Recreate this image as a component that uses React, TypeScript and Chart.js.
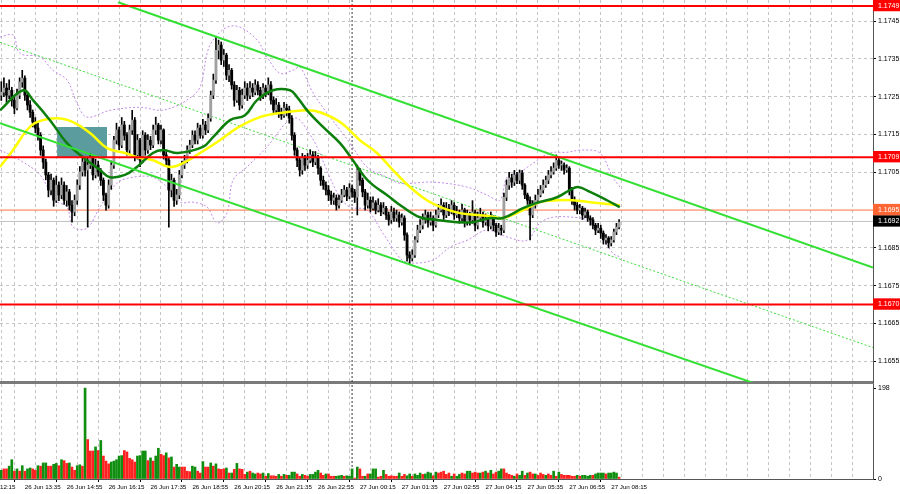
import React, { useEffect, useRef } from 'react';
import { Chart, registerables } from 'chart.js';

Chart.register(...registerables);

// ---------- data (5-minute bars) ----------
const FIRST_OPEN = 1.17254;

const closes = [
  1.17262, 1.17273, 1.17254, 1.17267, 1.17241, 1.1722, 1.17254, 1.17289, 1.17299, 1.17254,
  1.17228, 1.17209, 1.17183, 1.17167, 1.17148, 1.17109, 1.17077, 1.17043, 1.17003, 1.17029,
  1.16976, 1.17016, 1.1699, 1.17016, 1.16976, 1.16998, 1.16963, 1.16945, 1.16976, 1.17016,
  1.17051, 1.17077, 1.17056, 1.17069, 1.17088, 1.17043, 1.17069, 1.17051, 1.17029, 1.1699,
  1.16963, 1.17016, 1.17069, 1.17135, 1.17162, 1.17122, 1.17175, 1.17148, 1.17109, 1.17162,
  1.17188, 1.17096, 1.17135, 1.17082, 1.17148, 1.17109, 1.17135, 1.17122, 1.17162, 1.17175,
  1.17135, 1.17162, 1.17096, 1.17082, 1.17003, 1.17029, 1.16976, 1.1699, 1.17043, 1.17069,
  1.17082, 1.17109, 1.17122, 1.17148, 1.17135, 1.17167, 1.17148, 1.17175, 1.17162, 1.17193,
  1.17254, 1.17294, 1.17373, 1.17387, 1.17347, 1.1736, 1.17307, 1.1732, 1.17281, 1.17241,
  1.17267, 1.17228, 1.17254, 1.17273, 1.17254, 1.17273, 1.17262, 1.17281, 1.17267, 1.17252,
  1.17273, 1.17262, 1.17281, 1.17241, 1.17215, 1.17228, 1.17209, 1.17201, 1.1722, 1.17215,
  1.17193, 1.17148, 1.17109, 1.17082, 1.17056, 1.17088, 1.17069, 1.17082, 1.17096, 1.17077,
  1.17088, 1.17061, 1.17029, 1.17016, 1.17003, 1.1699, 1.16976, 1.16982, 1.16963, 1.16976,
  1.1699, 1.17003, 1.16987, 1.17008, 1.16998, 1.16984, 1.17056, 1.17029, 1.16998, 1.16963,
  1.16976, 1.16955, 1.16969, 1.1695, 1.16963, 1.16945, 1.16955, 1.16937, 1.16924, 1.16945,
  1.16929, 1.16937, 1.16918, 1.16929, 1.16884, 1.16831, 1.16823, 1.16831, 1.16871, 1.16897,
  1.1691, 1.16924, 1.16937, 1.16918, 1.16929, 1.1691, 1.16937, 1.1695, 1.16963, 1.16937,
  1.16955, 1.16945, 1.16963, 1.16937, 1.16945, 1.16929, 1.1695, 1.16918, 1.16937, 1.16924,
  1.16945, 1.1691, 1.16929, 1.16937, 1.16918, 1.16924, 1.16908, 1.16929, 1.1691, 1.16892,
  1.16902, 1.16897, 1.16984, 1.17016, 1.17035, 1.17024, 1.17043, 1.17029, 1.17048, 1.17016,
  1.1699, 1.16976, 1.16937, 1.16963, 1.16976, 1.1699, 1.17003, 1.17016, 1.17029, 1.17043,
  1.17051, 1.17061, 1.17082, 1.17069, 1.17069, 1.17056, 1.17061, 1.17003, 1.16976, 1.16963,
  1.1695, 1.16955, 1.16937, 1.16945, 1.16929, 1.16924, 1.1691, 1.16897, 1.16902, 1.16889,
  1.16871, 1.16876, 1.16863, 1.16871, 1.16892, 1.16905, 1.16918,
];

const highs = [
  1.1729, 1.173, 1.17285, 1.17295, 1.17275, 1.1725, 1.1727, 1.173, 1.1732, 1.17305,
  1.1726, 1.1724, 1.17215, 1.17195, 1.1718, 1.17155, 1.1712, 1.17085, 1.1705, 1.17045,
  1.17035, 1.1704, 1.17025, 1.17035, 1.17025, 1.17015, 1.17005, 1.16975, 1.1699, 1.1703,
  1.17065, 1.1709, 1.17085, 1.1709, 1.171, 1.17095, 1.17085, 1.1708, 1.1706, 1.17035,
  1.16995, 1.1703, 1.1708, 1.17145, 1.1718, 1.1717, 1.17195, 1.17185, 1.17155, 1.17175,
  1.17214, 1.17195, 1.1715, 1.1714, 1.1716, 1.17155, 1.1715, 1.17145, 1.17175, 1.17196,
  1.1718, 1.17175, 1.17165, 1.17105, 1.1709, 1.17045, 1.17035, 1.17005, 1.17055, 1.1708,
  1.17095, 1.1712, 1.17135, 1.1716, 1.1716, 1.1718, 1.17175, 1.1719, 1.17185, 1.17205,
  1.17265, 1.1731, 1.17408, 1.174, 1.17395, 1.17375, 1.17365, 1.17335, 1.17325, 1.1729,
  1.1728, 1.17275, 1.1727, 1.1729, 1.17285, 1.1729, 1.17285, 1.17295, 1.1729, 1.17275,
  1.17285, 1.1728, 1.173, 1.1729, 1.1725, 1.17245, 1.17235, 1.1722, 1.17235, 1.1723,
  1.17225, 1.172, 1.17155, 1.17115, 1.1709, 1.171, 1.17095, 1.171, 1.1711, 1.17105,
  1.17105, 1.17095, 1.17065, 1.1704, 1.17025, 1.17015, 1.17, 1.16995, 1.1699, 1.1699,
  1.17005, 1.17015, 1.1701, 1.1702, 1.17015, 1.17005, 1.17069, 1.1706, 1.17035, 1.17005,
  1.16995, 1.16985, 1.16985, 1.16975, 1.1698, 1.1697, 1.1697, 1.1696, 1.16945, 1.1696,
  1.16955, 1.1695, 1.16945, 1.1694, 1.16935, 1.1689, 1.1684, 1.16845, 1.1688, 1.1691,
  1.16925, 1.1694, 1.1695, 1.16945, 1.16945, 1.16935, 1.1695, 1.16965, 1.1698, 1.1697,
  1.1697, 1.16965, 1.16975, 1.1697, 1.1696, 1.1695, 1.16965, 1.16955, 1.1695, 1.16945,
  1.16975, 1.1695, 1.16945, 1.16955, 1.16945, 1.1694, 1.1693, 1.16945, 1.16935, 1.16915,
  1.16915, 1.1691, 1.16995, 1.1703, 1.1705, 1.17045, 1.17055, 1.1705, 1.17056, 1.17055,
  1.1702, 1.16995, 1.16985, 1.16975, 1.1699, 1.17005, 1.17015, 1.1703, 1.1704, 1.17055,
  1.17065, 1.17075, 1.17096, 1.1709, 1.1708, 1.17075, 1.1707, 1.17065, 1.1701, 1.16985,
  1.1697, 1.16965, 1.1696, 1.16955, 1.1695, 1.16935, 1.1693, 1.16915, 1.16915, 1.1691,
  1.16895, 1.16885, 1.1688, 1.1688, 1.169, 1.16915, 1.16925,
];

const lows = [
  1.1724, 1.1725, 1.17235, 1.17245, 1.17225, 1.17205, 1.17215, 1.17245, 1.17275, 1.1724,
  1.17215, 1.17195, 1.1717, 1.17155, 1.17135, 1.17095, 1.1706, 1.1703, 1.16985, 1.1699,
  1.1696, 1.1697, 1.16975, 1.1698, 1.16965, 1.1696, 1.1695, 1.16918, 1.16935, 1.16965,
  1.17005, 1.1704, 1.1704, 1.16905, 1.1706, 1.1703, 1.17035, 1.1704, 1.17015, 1.16975,
  1.1695, 1.16955, 1.17005, 1.1706, 1.17125, 1.1711, 1.17115, 1.17135, 1.17095, 1.171,
  1.1715, 1.1708, 1.17085, 1.17065, 1.17075, 1.17095, 1.171, 1.1711, 1.17115, 1.1715,
  1.17125, 1.17125, 1.17085, 1.1707, 1.16905, 1.16985, 1.1696, 1.16965, 1.1698, 1.17035,
  1.1706, 1.17075, 1.171, 1.17115, 1.17125, 1.17125, 1.1714, 1.1714, 1.1715, 1.17155,
  1.17185, 1.17245, 1.17285, 1.1735, 1.17335, 1.1733, 1.17295, 1.1729, 1.1727, 1.17225,
  1.17235, 1.17215, 1.1722, 1.17245, 1.1724, 1.17245, 1.1725, 1.17255, 1.17255, 1.1724,
  1.17245, 1.1725, 1.17255, 1.1723, 1.17205, 1.17205, 1.17195, 1.1719, 1.17195, 1.172,
  1.1718, 1.17135, 1.17095, 1.17065, 1.1704, 1.17045, 1.17055, 1.1706, 1.17075, 1.17065,
  1.1707, 1.17045, 1.17015, 1.17005, 1.1699, 1.16975, 1.16965, 1.16965, 1.1695, 1.16955,
  1.1697, 1.16985, 1.16975, 1.1698, 1.16985, 1.1697, 1.16937, 1.17015, 1.16985, 1.1695,
  1.16955, 1.16945, 1.1695, 1.1694, 1.16945, 1.16935, 1.1694, 1.16925, 1.1691, 1.16915,
  1.1692, 1.1692, 1.16905, 1.1691, 1.1687, 1.16815, 1.16808, 1.16815, 1.16825, 1.16865,
  1.1689, 1.169, 1.16915, 1.16905, 1.1691, 1.16895, 1.16905, 1.1693, 1.16945, 1.16925,
  1.1693, 1.16935, 1.1694, 1.16925, 1.1693, 1.16915, 1.1692, 1.16905, 1.1691, 1.1691,
  1.16915, 1.16895, 1.169, 1.1692, 1.16905, 1.1691, 1.16895, 1.169, 1.16895, 1.1688,
  1.16885, 1.16884, 1.1689, 1.16975, 1.17005, 1.1701, 1.17015, 1.1702, 1.1702, 1.17005,
  1.1698, 1.16965, 1.16871, 1.1693, 1.16955, 1.1697, 1.16985, 1.16995, 1.1701, 1.1702,
  1.17035, 1.17045, 1.17055, 1.1706, 1.17055, 1.17045, 1.1705, 1.1699, 1.16965, 1.1695,
  1.1694, 1.1694, 1.16925, 1.1693, 1.1692, 1.1691, 1.169, 1.16885, 1.1689, 1.16875,
  1.1686, 1.1686, 1.1685, 1.16855, 1.16865, 1.16885, 1.169,
];

const volumes = [
  19, 22, 22, 28, 42, 17, 22, 17, 29, 17,
  22, 24, 22, 19, 29, 28, 35, 35, 28, 28,
  32, 34, 29, 42, 40, 34, 35, 26, 19, 29,
  31, 28, 198, 86, 61, 61, 70, 62, 84, 50,
  39, 33, 37, 39, 42, 50, 51, 62, 59, 45,
  42, 37, 50, 51, 61, 61, 40, 46, 39, 50,
  67, 54, 51, 57, 46, 48, 26, 32, 26, 26,
  26, 17, 16, 28, 26, 17, 13, 38, 26, 26,
  35, 28, 33, 22, 21, 22, 24, 13, 13, 21,
  34, 22, 21, 10, 15, 17, 13, 11, 13, 11,
  13, 6, 12, 7, 7, 6, 10, 6, 10, 8,
  8, 15, 15, 11, 6, 10, 8, 6, 10, 10,
  15, 19, 13, 8, 11, 11, 6, 6, 6, 7,
  8, 6, 7, 6, 22, 2, 26, 22, 6, 6,
  11, 11, 22, 22, 4, 6, 19, 10, 6, 7,
  6, 6, 13, 6, 10, 7, 11, 6, 11, 8,
  13, 10, 11, 15, 13, 7, 15, 13, 15, 17,
  10, 13, 6, 11, 6, 10, 13, 11, 17, 17,
  13, 15, 13, 13, 15, 17, 13, 19, 11, 15,
  17, 22, 22, 13, 10, 8, 6, 11, 8, 17,
  8, 13, 15, 11, 11, 8, 13, 10, 8, 11,
  8, 17, 6, 15, 10, 8, 8, 8, 6, 6,
  8, 6, 8, 8, 6, 8, 8, 11, 13, 13,
  13, 11, 13, 13, 15, 13, 4,
];

// G = volume up bar (green), R = volume down bar (red)
const volumeDirections =
  'GRRGGRGRGR' + 'GGRRGRGGRR' + 'GGRGRRGRRG' + 'GRGRRRGRGR' + 'RRGGGGGRRR' +
  'RRGGGGRGRG' + 'GRRGRGRGGR' + 'RRRGGRRGRR' + 'GRGRRRGRGR' + 'GRRRGRGGRR' +
  'GRGRRRGRGR' + 'GGGRRGRRGG' + 'GGRRGRRRGG' + 'GRGGGRGRRG' + 'RGGGRRGRRR' +
  'RRGRRGGRGG' + 'GRGGGRGRRR' + 'RRGRGGRRGG' + 'RRRGRGRGRR' + 'GGRRRRGRGG' +
  'RGRRGRRRGR' + 'RGRGRRRRRR' + 'GRGGGGRGGG' + 'GRGGGGR';

const timeLabels = [
  '26 Jun 13:35', '26 Jun 14:55', '26 Jun 16:15', '26 Jun 17:35', '26 Jun 18:55',
  '26 Jun 20:15', '26 Jun 21:35', '26 Jun 22:55', '27 Jun 00:15', '27 Jun 01:35',
  '27 Jun 02:55', '27 Jun 04:15', '27 Jun 05:35', '27 Jun 06:55', '27 Jun 08:15',
];
const firstLabelText = '12:15';

const priceTicks = [1.1655, 1.1665, 1.1675, 1.1685, 1.1695, 1.1705, 1.1715, 1.1725, 1.1735, 1.1745];
const volumeTicks = [0, 198];

const redLevels = [1.1749, 1.1709, 1.167];
const pendingLevel = 1.1695;
const bidPrice = 1.1692;

// moving averages & bands read as [bar index, price]
const greenMA = [
  [-0.5, 1.17214], [8.3, 1.17267], [12.1, 1.17241], [18.6, 1.17188], [25.1, 1.17127],
  [31.2, 1.1709], [37.7, 1.17056], [41.5, 1.17037], [47.2, 1.17043], [51.8, 1.17064],
  [57.9, 1.17101], [61.8, 1.17109], [67.5, 1.17101], [77, 1.17117], [80.9, 1.17143],
  [87.4, 1.17188], [93.1, 1.17201], [97.7, 1.17241], [103.8, 1.17267], [110.3, 1.17267],
  [113, 1.17249], [116.8, 1.17214], [122.9, 1.1717], [129.4, 1.17127], [134.3, 1.17082],
  [138.9, 1.17037], [142, 1.17016], [147.3, 1.1699], [153.4, 1.16958], [159.9, 1.16931],
  [166.4, 1.16924], [174.1, 1.16918], [180.2, 1.16918], [186.7, 1.16929], [191.6, 1.16929],
  [199.3, 1.16955], [204.6, 1.16969], [212.3, 1.16984], [217.2, 1.17003], [220.3, 1.17011],
  [224.9, 1.16998], [231.4, 1.16976], [236.3, 1.16958],
];

const yellowMA = [
  [-0.5, 1.17064], [4.5, 1.17109], [9.8, 1.17162], [13.6, 1.17183], [21.3, 1.17193],
  [27.4, 1.17183], [33.9, 1.17154], [40.4, 1.17114], [47.2, 1.17101], [51.8, 1.1709],
  [57.9, 1.17082], [64.4, 1.17064], [69.4, 1.17074], [75.9, 1.17101], [83.5, 1.17135],
  [90, 1.17167], [98.8, 1.17196], [106.5, 1.17207], [116.8, 1.17214], [121.7, 1.17209],
  [129.4, 1.17183], [137, 1.17135], [143.5, 1.17101], [149.6, 1.17056], [156.1, 1.17011],
  [162.6, 1.16976], [168.7, 1.16955], [175.2, 1.16942], [181.7, 1.16937], [186.7, 1.16934],
  [191.6, 1.16929], [199.3, 1.1695], [205.8, 1.16971], [212.3, 1.16976], [218.4, 1.16976],
  [224.9, 1.16971], [236.3, 1.16963],
];

const bandUpper = [
  [-0.5, 1.17408], [4.5, 1.17413], [7.1, 1.17365], [14.8, 1.17355], [19.7, 1.1732],
  [25.1, 1.17294], [28.9, 1.17233], [32.7, 1.17196], [41.5, 1.17214], [53, 1.17222],
  [60.6, 1.17214], [65.6, 1.17222], [70.9, 1.17241], [75.9, 1.17275], [78.6, 1.17365],
  [80.9, 1.174], [86.2, 1.17434], [91.2, 1.17434], [97.7, 1.174], [101.5, 1.17355],
  [106.5, 1.17312], [111.4, 1.1732], [114.1, 1.17328], [119.1, 1.1726], [124.4, 1.17207],
  [129.4, 1.17162], [133.2, 1.17127], [139.7, 1.17064], [147.3, 1.17037], [152.3, 1.17021],
  [164.9, 1.17024], [177.9, 1.17011], [185.5, 1.1699], [190.5, 1.16976], [193.2, 1.17037],
  [198.1, 1.1705], [203.1, 1.17074], [209.6, 1.17101], [216.1, 1.17103], [222.2, 1.17109],
  [228.7, 1.17101], [233.6, 1.17037], [236.3, 1.17011],
];

const bandLower = [
  [-0.5, 1.17109], [7.1, 1.17082], [14.8, 1.17043], [20.5, 1.16976], [25.1, 1.16958],
  [27.4, 1.16905], [32.7, 1.16902], [37.7, 1.16958], [44.2, 1.17021], [50.3, 1.17037],
  [57.9, 1.17037], [63.3, 1.17011], [68.3, 1.16971], [73.2, 1.16971], [78.6, 1.16958],
  [82.4, 1.16916], [86.2, 1.16942], [88.5, 1.17029], [93.8, 1.17064], [101.5, 1.17117],
  [109.1, 1.17183], [113, 1.17193], [116.8, 1.17162], [120.6, 1.17117], [125.5, 1.17037],
  [129.4, 1.16984], [133.2, 1.16958], [139.7, 1.1695], [145.8, 1.16889], [152.3, 1.16823],
  [156.1, 1.1681], [164.9, 1.16818], [171.4, 1.16852], [177.9, 1.1687], [185.5, 1.16897],
  [193.2, 1.16879], [200.8, 1.1687], [205.8, 1.16916], [210.7, 1.16931], [218.4, 1.16931],
  [223.7, 1.16924], [228.7, 1.16889], [233.6, 1.16836], [236.3, 1.16826],
];

const channelUpper = [[44.6, 1.175], [333, 1.16798]];
const channelLower = [[-0.5, 1.1718], [290, 1.16486]];
const channelMid = [[-0.5, 1.17394], [333, 1.16586]];

const zoneBar = [21.3, 40.4];
const zonePrice = [1.1709, 1.1717];

const daySeparatorBar = 134;

// ---------- axis frame ----------
const X_MIN = -0.5;
const X_MAX = 333;
const Y_MAX = 1.17506;
const Y_MIN = 1.16495;
const VOL_MAX = 207;
const GRID_START = 1;
const GRID_STEP = 8;
const LABEL_START = 9;
const LABEL_STEP = 16;
const AXIS_W = 27;

const FONT = 'Liberation Sans, Arial, sans-serif';
const GRID = '#c4c4c4';

const xTickValues: number[] = [X_MIN];
for (let v = GRID_START; v <= X_MAX; v += GRID_STEP) xTickValues.push(v);

const near = (a: number, b: number) => Math.abs(a - b) < 1e-7;
const tagBg = (v: number): string | null => {
  if (redLevels.some((r) => near(r, v))) return '#ff0000';
  if (near(v, pendingLevel)) return '#ff6633';
  if (near(v, bidPrice)) return '#000000';
  return null;
};

const pts = (arr: number[][]) => arr.map(([x, y]) => ({ x, y }));
const hLine = (v: number) => [{ x: X_MIN, y: v }, { x: X_MAX, y: v }];

const lineDs = (data: any[], color: string, width: number, extra: any = {}) => ({
  type: 'line',
  data,
  borderColor: color,
  borderWidth: width,
  pointRadius: 0,
  fill: false,
  tension: 0,
  ...extra,
});

function xLabelFor(v: number): string {
  if (v === X_MIN) return firstLabelText;
  const k = (v - LABEL_START) / LABEL_STEP;
  if (Number.isInteger(k) && k >= 0 && k < timeLabels.length) return timeLabels[k];
  return '';
}

const fixVertical = (s: any) => {
  s.width = AXIS_W;
  s.paddingTop = 0;
  s.paddingBottom = 0;
};

function priceConfig(): any {
  const opens = closes.map((c, i) => (i === 0 ? FIRST_OPEN : closes[i - 1]));
  const wicks = closes.map((_, i) => ({ x: i, y: [lows[i], highs[i]] }));
  const bodies = closes.map((c, i) => ({ x: i, y: [opens[i], c] }));
  const bodyColors = closes.map((c, i) => (c >= opens[i] ? '#a0a0a0' : '#000000'));

  const yTicks = Array.from(new Set([...priceTicks, ...redLevels, bidPrice, pendingLevel]))
    .sort((a, b) => a - b);

  const datasets: any[] = [
    lineDs([{ x: zoneBar[0], y: zonePrice[1] }, { x: zoneBar[1], y: zonePrice[1] }], 'rgba(0,0,0,0)', 0, {
      fill: { value: zonePrice[0] },
      backgroundColor: '#5b9d9f',
      order: 20,
    }),
    lineDs(pts(bandUpper), '#c28ae6', 1, { borderDash: [2, 2], tension: 0.35, order: 15 }),
    lineDs(pts(bandLower), '#c28ae6', 1, { borderDash: [2, 2], tension: 0.35, order: 15 }),
    lineDs([{ x: daySeparatorBar, y: Y_MIN }, { x: daySeparatorBar, y: Y_MAX }], '#3a3a3a', 1, {
      borderDash: [2, 2],
      order: 15,
    }),
    lineDs(pts(channelMid), '#3ddc3d', 1, { borderDash: [2, 2], order: 14 }),
    lineDs(hLine(bidPrice), '#c0c0c0', 1, { order: 14 }),
    lineDs(hLine(pendingLevel), '#ff7040', 1, { order: 14 }),
    {
      type: 'bar',
      data: wicks,
      backgroundColor: '#000000',
      barThickness: 1,
      grouped: false,
      order: 10,
    },
    {
      type: 'bar',
      data: bodies,
      backgroundColor: bodyColors,
      borderWidth: 0,
      barThickness: 2.2,
      minBarLength: 1,
      grouped: false,
      order: 9,
    },
    lineDs(pts(yellowMA), '#ffff00', 2.5, { tension: 0.4, order: 6 }),
    lineDs(pts(greenMA), '#0c7f0c', 2.5, { tension: 0.4, order: 5 }),
    lineDs(pts(channelUpper), '#33e033', 2, { order: 3 }),
    lineDs(pts(channelLower), '#33e033', 2, { order: 3 }),
    ...redLevels.map((v) => lineDs(hLine(v), '#ff0000', 2, { order: 2 })),
  ];

  return {
    type: 'bar',
    data: { datasets },
    options: {
      animation: false,
      responsive: false,
      events: [],
      layout: { padding: 0 },
      plugins: { legend: { display: false }, tooltip: { enabled: false } },
      scales: {
        x: {
          type: 'linear',
          min: X_MIN,
          max: X_MAX,
          offset: false,
          afterBuildTicks: (s: any) => {
            s.ticks = xTickValues.map((v) => ({ value: v }));
          },
          afterFit: (s: any) => {
            s.height = 2;
            s.paddingLeft = 0;
            s.paddingRight = 0;
          },
          ticks: { display: false },
          grid: {
            color: (c: any) => (c.tick && c.tick.value === X_MIN ? 'rgba(0,0,0,0)' : GRID),
            drawTicks: false,
            lineWidth: 1,
          },
          border: { display: true, color: '#7a7a7a', width: 3, dash: [3, 3] },
        },
        y: {
          type: 'linear',
          position: 'right',
          min: Y_MIN,
          max: Y_MAX,
          afterBuildTicks: (s: any) => {
            s.ticks = [Y_MIN, ...yTicks, Y_MAX].map((v) => ({ value: v }));
          },
          afterFit: fixVertical,
          ticks: {
            autoSkip: false,
            padding: 2,
            font: { family: FONT, size: 7 },
            color: (c: any) => (c.tick && tagBg(c.tick.value) ? '#ffffff' : '#000000'),
            callback: (v: any) => (near(v, Y_MIN) || near(v, Y_MAX) ? null : Number(v).toFixed(4)),
            showLabelBackdrop: true,
            backdropColor: (c: any) => (c.tick && tagBg(c.tick.value)) || 'rgba(0,0,0,0)',
            backdropPadding: { top: 2, bottom: 1, left: 5, right: 4 },
          },
          grid: {
            color: (c: any) => (c.tick && tagBg(c.tick.value) ? 'rgba(0,0,0,0)' : GRID),
            tickColor: '#000000',
            tickLength: 3,
            lineWidth: 1,
          },
          border: { display: true, color: '#555555', width: 1, dash: [3, 3] },
        },
      },
    },
  };
}

function volumeConfig(): any {
  const vols = volumes.map((v, i) => ({ x: i, y: v }));
  const colors = volumes.map((_, i) => (volumeDirections[i] === 'G' ? '#108e10' : '#ff2020'));
  return {
    type: 'bar',
    data: {
      datasets: [
        lineDs([{ x: daySeparatorBar, y: 0 }, { x: daySeparatorBar, y: VOL_MAX }], '#3a3a3a', 1, {
          borderDash: [2, 2],
          order: 5,
        }),
        {
          type: 'bar',
          data: vols,
          backgroundColor: colors,
          barThickness: 2,
          grouped: false,
          order: 1,
        },
      ],
    },
    options: {
      animation: false,
      responsive: false,
      events: [],
      layout: { padding: 0 },
      plugins: { legend: { display: false }, tooltip: { enabled: false } },
      scales: {
        x: {
          type: 'linear',
          min: X_MIN,
          max: X_MAX,
          offset: false,
          afterBuildTicks: (s: any) => {
            s.ticks = xTickValues.map((v) => ({ value: v }));
          },
          afterFit: (s: any) => {
            s.height = 15;
            s.paddingLeft = 0;
            s.paddingRight = 0;
          },
          ticks: {
            autoSkip: false,
            maxRotation: 0,
            minRotation: 0,
            align: 'start',
            padding: 2,
            color: '#000000',
            font: { family: FONT, size: 6.2 },
            callback: (v: any) => xLabelFor(Number(v)),
          },
          grid: {
            color: (c: any) => (c.tick && c.tick.value === X_MIN ? 'rgba(0,0,0,0)' : GRID),
            tickColor: (c: any) => (c.tick && xLabelFor(c.tick.value) ? '#000000' : 'rgba(0,0,0,0)'),
            tickLength: 3,
            lineWidth: 1,
          },
          border: { display: true, color: '#555555', width: 1, dash: [3, 3] },
        },
        y: {
          type: 'linear',
          position: 'right',
          min: 0,
          max: VOL_MAX,
          afterBuildTicks: (s: any) => {
            s.ticks = [...volumeTicks, VOL_MAX].map((v) => ({ value: v }));
          },
          afterFit: fixVertical,
          ticks: {
            autoSkip: false,
            padding: 2,
            color: '#000000',
            font: { family: FONT, size: 7 },
            callback: (v: any) => (v === VOL_MAX ? null : String(v)),
          },
          grid: { drawOnChartArea: false, tickLength: 3, tickColor: '#000000' },
          border: { display: true, color: '#555555', width: 1 },
        },
      },
    },
  };
}

export default function App() {
  const priceRef = useRef<HTMLCanvasElement>(null);
  const volRef = useRef<HTMLCanvasElement>(null);

  useEffect(() => {
    document.body.style.margin = '0';
    const a = new Chart(priceRef.current as HTMLCanvasElement, priceConfig());
    const b = new Chart(volRef.current as HTMLCanvasElement, volumeConfig());
    return () => {
      a.destroy();
      b.destroy();
    };
  }, []);

  return (
    <div style={{ position: 'absolute', left: 0, top: 0, width: 900, height: 494, background: '#ffffff' }}>
      <canvas ref={priceRef} width={900} height={384} style={{ display: 'block' }} />
      <canvas ref={volRef} width={900} height={110} style={{ display: 'block' }} />
    </div>
  );
}
